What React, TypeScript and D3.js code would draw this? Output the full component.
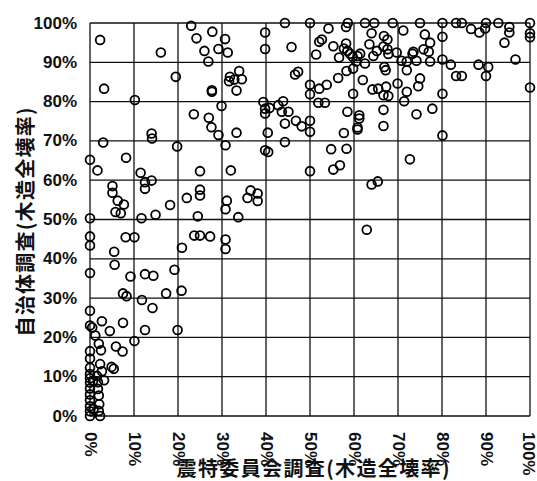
import React, { useEffect, useRef } from 'react';
import * as d3 from 'd3';

// [震特委員会調査 %, 自治体調査 %] — grouped by x band
const band0: [number, number][] = [
  [2.3, 95.7], [3.2, 83.3], [3.0, 69.6], [0, 65.2], [1.7, 62.5], [8.2, 65.7], [10.2, 80.4],
  [5.1, 58.5], [5.1, 56.8], [6.3, 54.8], [7.7, 53.8], [5.8, 51.9], [7.0, 51.6], [0, 50.3],
  [0, 45.7], [0, 43.4], [8.1, 45.5], [10.1, 45.5], [5.5, 41.8], [5.6, 38.5], [0, 36.4],
  [9.2, 35.5], [7.5, 31.2], [8.3, 30.5], [0, 26.8], [0, 23.0], [0.5, 22.5], [2.7, 24.1],
  [4.5, 21.6], [7.5, 23.7], [1.2, 20.5], [2.0, 18.4], [2.5, 16.7], [5.9, 17.7], [7.4, 16.4],
  [0, 16.5], [0, 14.6], [2.3, 13.2], [4.9, 12.5], [5.4, 12.0], [0, 12.3], [2.7, 11.4], [3.2, 9.1],
];

const band0Cluster: [number, number][] = [
  [0, 10.7], [0, 9.6], [0, 8.5], [0, 7.0], [0, 5.5], [0, 4.0], [0, 2.5], [0, 1.2], [0, 0],
  [1.6, 10.2], [1.8, 8.6], [1.8, 6.9], [2.0, 5.2], [2.1, 3.0], [2.0, 1.3], [2.3, 0],
  [0.7, 9.0], [0.8, 1.8],
];

const band10: [number, number][] = [
  [16.1, 92.5], [19.5, 86.3], [14.0, 71.9], [14.1, 70.6], [19.8, 68.6], [11.5, 61.9],
  [12.5, 59.5], [14.0, 59.9], [12.5, 57.8], [11.7, 50.3], [14.9, 51.2], [18.2, 53.7],
  [12.5, 36.1], [14.4, 35.7], [19.2, 37.2], [17.3, 31.2], [11.8, 29.5], [14.2, 27.5],
  [12.5, 21.9], [19.9, 21.9], [10.1, 19.1],
];

const band20: [number, number][] = [
  [23.0, 99.3], [24.2, 96.1], [27.8, 97.8], [26.0, 92.9], [29.2, 93.4], [26.9, 90.2],
  [27.7, 82.9], [27.7, 82.5], [23.6, 76.8], [27.0, 75.9], [27.6, 73.5], [29.2, 71.5],
  [29.9, 78.9], [25.0, 62.3], [22.0, 55.5], [25.0, 57.6], [25.0, 56.1], [24.5, 50.8],
  [23.7, 45.9], [25.0, 45.9], [27.3, 45.7], [20.9, 42.8], [20.8, 31.9],
];

const band30: [number, number][] = [
  [30.7, 95.9], [31.3, 92.5], [33.9, 87.8], [31.8, 86.3], [31.6, 85.2], [32.8, 85.6],
  [34.5, 85.7], [33.3, 82.8], [33.3, 72.1], [30.8, 68.9], [32.0, 62.5], [31.1, 54.8],
  [30.8, 52.6], [33.7, 50.6], [36.5, 57.4], [38.1, 56.6], [35.8, 55.5], [38.1, 54.7],
  [39.8, 97.6], [39.8, 93.4], [39.4, 79.9], [39.8, 78.2], [39.8, 77.0], [39.8, 67.6],
  [30.8, 44.9], [30.8, 42.5],
];

const band40: [number, number][] = [
  [40.4, 72.1], [40.5, 67.2], [44.3, 100], [45.8, 93.9], [47.3, 87.6], [46.6, 86.9],
  [43.9, 80.1], [42.8, 79.1], [40.8, 78.4], [43.6, 77.4], [45.1, 77.4], [44.3, 74.4],
  [46.8, 75.1], [48.1, 73.7], [44.3, 69.7],
];

const band50: [number, number][] = [
  [50, 100], [54.2, 98.6], [58.2, 99.0], [58.6, 100], [52.1, 95.2], [52.7, 95.8], [55.3, 94.1],
  [58.2, 94.8], [57.7, 93.5], [58.5, 92.9], [51.4, 92.0], [56.6, 91.2], [59.1, 92.2],
  [59.7, 91.4], [58.3, 87.8], [56.4, 86.0], [59.8, 88.4], [53.8, 84.3], [52.1, 83.3],
  [50, 84.3], [50, 81.9], [59.8, 82.0], [51.9, 79.7], [53.4, 79.7], [58.5, 77.4], [50, 75.1],
  [50, 72.3], [57.7, 72.0], [54.8, 67.9], [58.3, 68.0], [50, 62.3], [55.3, 62.7], [56.8, 63.8],
];

const band60: [number, number][] = [
  [62.5, 100], [64.6, 100], [68.8, 100], [64.0, 97.4], [66.8, 96.7], [67.6, 95.8], [63.5, 94.6],
  [66.7, 94.0], [67.6, 93.3], [67.8, 92.1], [65.2, 92.9], [60.8, 91.6], [61.4, 92.2],
  [60.5, 90.2], [64.4, 91.6], [62.5, 89.7], [66.9, 88.8], [67.2, 88.0], [62.0, 85.5],
  [64.2, 83.1], [65.5, 83.3], [67.3, 83.8], [69.9, 84.6], [66.7, 81.6], [67.8, 81.4],
  [61.2, 76.5], [61.2, 75.7], [60.8, 73.4], [60.8, 72.9], [66.7, 77.9], [66.7, 73.8],
  [64.0, 58.9], [65.4, 59.7], [62.9, 47.4], [69.7, 92.5],
];

const band70: [number, number][] = [
  [75, 100], [71.2, 98.1], [76.1, 97.1], [77.3, 95.0], [75.8, 93.3], [73.5, 92.7], [73.3, 92.2],
  [77.0, 92.7], [70.8, 90.4], [72, 90.2], [74.2, 90.4], [77.3, 90.2], [72, 88.0], [75, 85.9],
  [74.6, 83.9], [72, 82.5], [71.4, 80.1], [74.2, 76.8], [77.8, 78.2], [72.7, 65.3],
];

const band80: [number, number][] = [
  [80.1, 100], [83.2, 100], [84.5, 100], [80.1, 96.5], [86.6, 98.5], [88.5, 97.6], [89.8, 98.6],
  [80.1, 90.7], [82.0, 89.4], [88.3, 89.4], [83.2, 86.5], [84.5, 86.5], [80.1, 82.0], [80.1, 71.4],
];

const band90: [number, number][] = [
  [90, 100], [92.8, 100], [100, 100], [95.3, 99.0], [95.3, 97.6], [100, 97.4], [100, 96.4],
  [94.2, 95.0], [96.7, 90.7], [90.5, 88.8], [90, 86.5], [100, 83.6],
];

const ticks = [0, 10, 20, 30, 40, 50, 60, 70, 80, 90, 100];
const xTitle = '震特委員会調査(木造全壊率)';
const yTitle = '自治体調査(木造全壊率)';

const W = 537;
const H = 481;
const tickFont = '"Liberation Sans Narrow", "Arial Narrow", "Liberation Sans", Arial, sans-serif';
const cjkFont = '"Noto Sans CJK JP", "Noto Sans CJK SC", sans-serif';

const App: React.FC = () => {
  const svgRef = useRef<SVGSVGElement | null>(null);

  useEffect(() => {
    if (!svgRef.current) return;
    const svg = d3.select(svgRef.current);
    svg.selectAll('*').remove();

    const points = [
      ...band0, ...band0Cluster, ...band10, ...band20, ...band30,
      ...band40, ...band50, ...band60, ...band70, ...band80, ...band90,
    ];

    const x = d3.scaleLinear().domain([0, 100]).range([90, 530]);
    const y = d3.scaleLinear().domain([0, 100]).range([416, 23]);

    svg.append('rect').attr('width', W).attr('height', H).attr('fill', '#fff');

    // grid
    const grid = svg.append('g').attr('stroke', '#111').attr('stroke-width', 1.3);
    grid.selectAll('.vx').data(ticks).enter().append('line')
      .attr('x1', (d) => x(d)).attr('x2', (d) => x(d))
      .attr('y1', y(0)).attr('y2', y(100));
    grid.selectAll('.hy').data(ticks).enter().append('line')
      .attr('x1', x(0)).attr('x2', x(100))
      .attr('y1', (d) => y(d)).attr('y2', (d) => y(d));

    // y tick labels
    svg.append('g').selectAll('text').data(ticks).enter().append('text')
      .attr('x', 77).attr('y', (d) => y(d))
      .attr('text-anchor', 'end').attr('dominant-baseline', 'central')
      .attr('font-family', tickFont).attr('font-weight', 'bold').attr('font-size', 17)
      .attr('fill', '#111')
      .text((d) => `${d}%`);

    // x tick labels (rotated); keep the last one inside the frame
    svg.append('g').selectAll('text').data(ticks).enter().append('text')
      .attr('transform', (d) => `translate(${Math.min(x(d), W - 9)},432) rotate(90)`)
      .attr('text-anchor', 'start').attr('dominant-baseline', 'central')
      .attr('font-family', tickFont).attr('font-weight', 'bold').attr('font-size', 17)
      .attr('fill', '#111')
      .text((d) => `${d}%`);

    // points
    svg.append('g').selectAll('circle').data(points).enter().append('circle')
      .attr('cx', (d) => x(d[0])).attr('cy', (d) => y(d[1]))
      .attr('r', 4.4)
      .attr('fill', 'none').attr('stroke', '#000').attr('stroke-width', 1.8);

    // axis titles
    svg.append('text')
      .attr('x', 313).attr('y', 467)
      .attr('text-anchor', 'middle').attr('dominant-baseline', 'central')
      .attr('font-family', cjkFont).attr('font-weight', 'bold').attr('font-size', 20)
      .attr('textLength', 273).attr('lengthAdjust', 'spacing')
      .attr('fill', '#111')
      .text(xTitle);

    svg.append('text')
      .attr('transform', 'translate(24,222) rotate(-90)')
      .attr('text-anchor', 'middle').attr('dominant-baseline', 'central')
      .attr('font-family', cjkFont).attr('font-weight', 'bold').attr('font-size', 20)
      .attr('textLength', 229).attr('lengthAdjust', 'spacing')
      .attr('fill', '#111')
      .text(yTitle);
  }, []);

  return (
    <svg
      ref={svgRef}
      width={W}
      height={H}
      style={{ position: 'absolute', left: 0, top: 0 }}
    />
  );
};

export default App;
